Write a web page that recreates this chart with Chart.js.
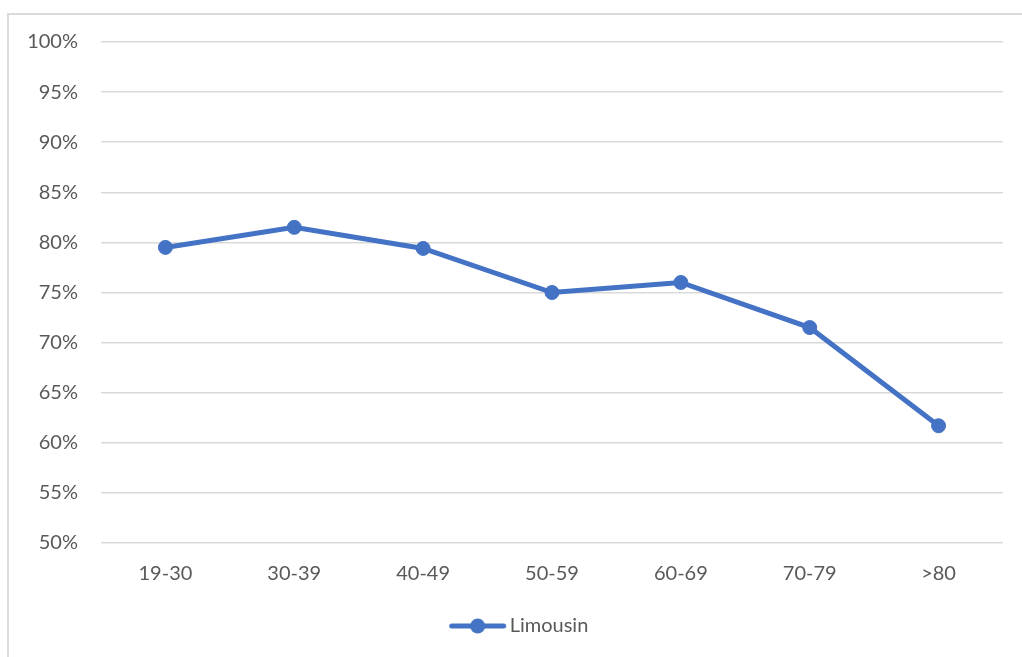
<!DOCTYPE html>
<html>
<head>
<meta charset="utf-8">
<script src="https://cdn.jsdelivr.net/npm/chart.js@4/dist/chart.umd.min.js"></script>
<style>
  html, body { margin: 0; padding: 0; background: #fff; overflow: hidden; }
  #wrap { position: relative; width: 1022px; height: 657px; }
  #frame { position: absolute; left: 7px; top: 13px; width: 1100px; height: 700px;
           border: 2px solid #dadada; box-sizing: border-box; }
  #c { position: absolute; left: 0; top: 0; }
</style>
</head>
<body>
<div id="wrap">
  <div id="frame"></div>
  <canvas id="c" width="1022" height="657"></canvas>
</div>
<script>
// Age groups and share per group (percent)
const ageGroups = ['19-30', '30-39', '40-49', '50-59', '60-69', '70-79', '>80'];
const limousin = [79.5, 81.5, 79.4, 75.0, 76.0, 71.5, 61.7];
const seriesName = 'Limousin';
const yMin = 50, yMax = 100, yStep = 5;

const BLUE = '#4472C4';
const GRID = '#d9d9d9';
const TEXT = '#595959';
const FONT = 'Lato, "Open Sans", "Liberation Sans", sans-serif';

// Legend symbol: a short line with a dot in the middle
const sym = document.createElement('canvas');
sym.width = 80; sym.height = 18;
(function () {
  const g = sym.getContext('2d');
  g.strokeStyle = BLUE; g.lineWidth = 5; g.lineCap = 'round';
  g.beginPath(); g.moveTo(24.5, 9); g.lineTo(76.5, 9); g.stroke();
  g.fillStyle = BLUE;
  g.beginPath(); g.arc(50.5, 9, 7.5, 0, Math.PI * 2); g.fill();
})();

new Chart(document.getElementById('c'), {
  type: 'line',
  data: {
    labels: ageGroups,
    datasets: [{
      label: seriesName,
      data: limousin,
      borderColor: BLUE,
      backgroundColor: BLUE,
      borderWidth: 5,
      pointRadius: 7,
      pointBorderWidth: 1,
      pointBackgroundColor: BLUE,
      pointBorderColor: BLUE,
      pointStyle: 'circle',
      tension: 0,
      fill: false
    }]
  },
  options: {
    responsive: false,
    animation: false,
    devicePixelRatio: 1,
    layout: { padding: { left: 20, right: 19, top: 42, bottom: 11 } },
    scales: {
      x: {
        offset: true,
        grid: { display: false, drawTicks: false },
        border: { display: false },
        ticks: { color: TEXT, font: { family: FONT, size: 20 }, padding: 19, maxRotation: 0 },
        afterFit: s => { s.height = 63; }
      },
      y: {
        min: yMin, max: yMax,
        grid: { color: GRID, lineWidth: 1.5, drawTicks: false },
        border: { display: false },
        ticks: {
          stepSize: yStep, color: TEXT, font: { family: FONT, size: 20 }, padding: 23,
          callback: v => v + '%'
        },
        afterFit: s => { s.width = 81; }
      }
    },
    plugins: {
      tooltip: { enabled: false },
      legend: {
        position: 'bottom',
        labels: {
          usePointStyle: true,
          pointStyle: sym,
          pointStyleWidth: 65,
          color: TEXT,
          font: { family: FONT, size: 20 },
          padding: 10
        }
      }
    }
  }
});
</script>
</body>
</html>
